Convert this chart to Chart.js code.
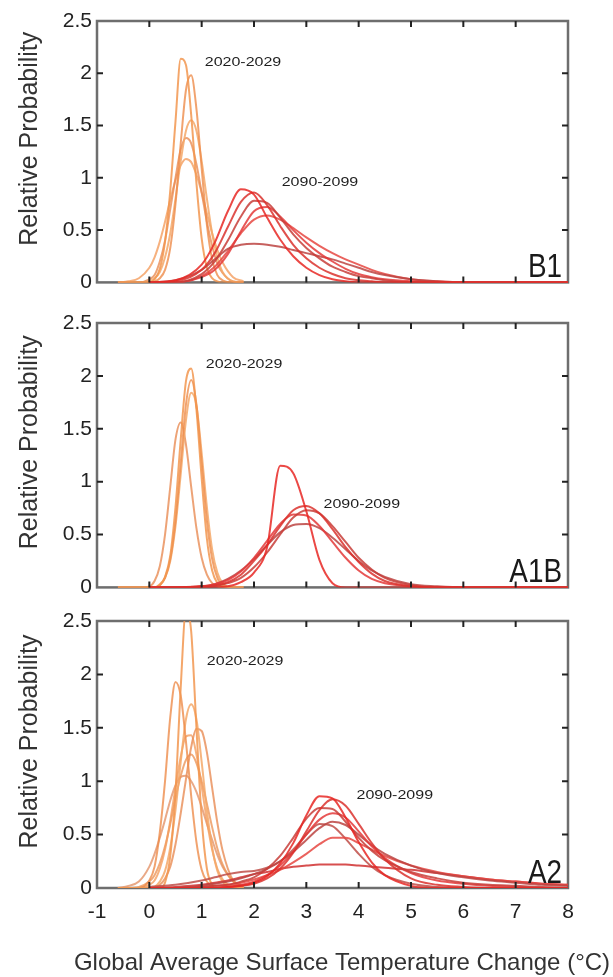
<!DOCTYPE html>
<html>
<head>
<meta charset="utf-8">
<script src="https://cdn.jsdelivr.net/npm/chart.js@4"></script>
<style>
  body { margin: 0; background: #fff; }
  #wrap { position: relative; width: 613px; height: 977px; }
  canvas { position: absolute; left: 0; }
</style>
</head>
<body>
<div id="wrap">
  <canvas id="b1" width="613" height="300" style="top:0px"></canvas>
  <canvas id="a1b" width="613" height="305" style="top:300px"></canvas>
  <canvas id="a2" width="613" height="379" style="top:598px"></canvas>
</div>
<script>
// x grids (°C)
const xNear = [-0.6, -0.4, -0.2, 0, 0.1, 0.2, 0.3, 0.4, 0.5, 0.6, 0.7, 0.8, 0.9, 1.0, 1.1, 1.2, 1.3, 1.4, 1.6, 1.8];
const xLate = [0, 0.5, 1, 1.25, 1.5, 1.75, 2, 2.25, 2.5, 2.75, 3, 3.25, 3.5, 3.75, 4, 4.25, 4.5, 5, 5.5, 6, 6.5, 7, 7.5, 8];

// B1, 2020-2029
const b1Near = [
  [0, 0, 0, 0, 0.03, 0.13, 0.39, 0.88, 1.54, 2.14, 2.08, 1.6, 0.95, 0.42, 0.14, 0.04, 0.01, 0, 0, 0],
  [0, 0, 0, 0, 0.01, 0.04, 0.12, 0.33, 0.75, 1.33, 1.84, 1.98, 1.66, 1.09, 0.55, 0.22, 0.07, 0.02, 0, 0],
  [0, 0, 0, 0.01, 0.04, 0.1, 0.24, 0.47, 0.8, 1.16, 1.45, 1.55, 1.45, 1.16, 0.8, 0.47, 0.24, 0.1, 0.01, 0],
  [0, 0, 0, 0.03, 0.07, 0.2, 0.4, 0.7, 1.0, 1.27, 1.38, 1.33, 1.13, 0.86, 0.58, 0.35, 0.18, 0.09, 0.01, 0],
  [0, 0.01, 0.04, 0.14, 0.24, 0.39, 0.58, 0.79, 0.98, 1.12, 1.18, 1.15, 1.03, 0.86, 0.66, 0.47, 0.31, 0.19, 0.05, 0.01]
];
// B1, 2090-2099
const b1Late = [
  [0, 0.02, 0.17, 0.38, 0.68, 0.89, 0.84, 0.62, 0.41, 0.25, 0.14, 0.07, 0.03, 0.01, 0, 0, 0, 0, 0, 0, 0, 0, 0, 0],
  [0, 0.01, 0.12, 0.28, 0.53, 0.77, 0.86, 0.74, 0.54, 0.36, 0.23, 0.14, 0.08, 0.04, 0.02, 0.01, 0, 0, 0, 0, 0, 0, 0, 0],
  [0, 0, 0.08, 0.2, 0.4, 0.63, 0.78, 0.76, 0.62, 0.46, 0.33, 0.23, 0.15, 0.1, 0.06, 0.04, 0.02, 0, 0, 0, 0, 0, 0, 0],
  [0, 0, 0.05, 0.12, 0.27, 0.49, 0.68, 0.72, 0.63, 0.5, 0.38, 0.28, 0.2, 0.13, 0.08, 0.05, 0.03, 0.01, 0, 0, 0, 0, 0, 0],
  [0, 0.02, 0.12, 0.22, 0.32, 0.36, 0.37, 0.36, 0.34, 0.31, 0.28, 0.25, 0.22, 0.18, 0.14, 0.1, 0.07, 0.03, 0.01, 0, 0, 0, 0, 0],
  [0, 0, 0.06, 0.15, 0.3, 0.47, 0.6, 0.64, 0.6, 0.52, 0.43, 0.35, 0.28, 0.22, 0.17, 0.12, 0.08, 0.03, 0.01, 0, 0, 0, 0, 0]
];

// A1B, 2020-2029
const a1bNear = [
  [0, 0, 0, 0, 0, 0.02, 0.1, 0.3, 0.76, 1.4, 1.95, 2.07, 1.68, 1.03, 0.46, 0.16, 0.04, 0.01, 0, 0],
  [0, 0, 0, 0, 0, 0.02, 0.09, 0.27, 0.63, 1.18, 1.73, 1.96, 1.73, 1.18, 0.63, 0.27, 0.09, 0.02, 0, 0],
  [0, 0, 0, 0, 0, 0.03, 0.09, 0.25, 0.58, 1.07, 1.58, 1.84, 1.72, 1.27, 0.76, 0.36, 0.14, 0.04, 0, 0],
  [0, 0, 0, 0.01, 0.06, 0.2, 0.5, 0.95, 1.4, 1.56, 1.35, 0.95, 0.56, 0.28, 0.12, 0.04, 0.01, 0, 0, 0]
];
// A1B, 2090-2099
const a1bLate = [
  [0, 0, 0, 0, 0.01, 0.05, 0.14, 0.38, 1.15, 1.08, 0.72, 0.26, 0.04, 0, 0, 0, 0, 0, 0, 0, 0, 0, 0, 0],
  [0, 0, 0.01, 0.02, 0.05, 0.12, 0.25, 0.4, 0.58, 0.73, 0.77, 0.7, 0.55, 0.38, 0.24, 0.13, 0.06, 0.01, 0, 0, 0, 0, 0, 0],
  [0, 0, 0, 0.01, 0.04, 0.09, 0.19, 0.33, 0.5, 0.66, 0.73, 0.7, 0.58, 0.43, 0.28, 0.17, 0.09, 0.02, 0, 0, 0, 0, 0, 0],
  [0, 0, 0.01, 0.03, 0.07, 0.15, 0.28, 0.44, 0.6, 0.69, 0.68, 0.58, 0.43, 0.28, 0.16, 0.08, 0.04, 0.01, 0, 0, 0, 0, 0, 0],
  [0, 0, 0.01, 0.03, 0.08, 0.16, 0.27, 0.4, 0.52, 0.59, 0.6, 0.56, 0.47, 0.36, 0.25, 0.16, 0.1, 0.03, 0.01, 0, 0, 0, 0, 0]
];

// A2, 2020-2029
const a2Near = [
  [0, 0, 0, 0, 0, 0, 0.05, 0.3, 0.9, 1.88, 2.6, 2.4, 1.5, 0.65, 0.18, 0.03, 0, 0, 0, 0],
  [0, 0, 0, 0.07, 0.2, 0.52, 1.0, 1.6, 1.93, 1.8, 1.37, 0.86, 0.43, 0.17, 0.06, 0.01, 0, 0, 0, 0],
  [0, 0, 0, 0, 0.01, 0.06, 0.16, 0.38, 0.73, 1.18, 1.58, 1.72, 1.58, 1.18, 0.73, 0.38, 0.16, 0.06, 0, 0],
  [0, 0, 0, 0, 0.01, 0.03, 0.09, 0.2, 0.41, 0.7, 1.02, 1.32, 1.49, 1.47, 1.27, 0.94, 0.61, 0.35, 0.07, 0.01],
  [0, 0, 0, 0.03, 0.07, 0.18, 0.36, 0.63, 0.94, 1.23, 1.42, 1.43, 1.25, 0.95, 0.63, 0.36, 0.18, 0.08, 0.01, 0],
  [0, 0, 0.01, 0.06, 0.12, 0.23, 0.39, 0.6, 0.84, 1.05, 1.2, 1.25, 1.17, 1.0, 0.79, 0.57, 0.37, 0.22, 0.06, 0.01],
  [0, 0.02, 0.06, 0.2, 0.32, 0.47, 0.64, 0.82, 0.96, 1.04, 1.05, 1.0, 0.9, 0.76, 0.6, 0.45, 0.31, 0.2, 0.07, 0.02]
];
// A2, 2090-2099
const a2Late = [
  [0, 0, 0, 0, 0.01, 0.02, 0.05, 0.11, 0.23, 0.42, 0.68, 0.86, 0.84, 0.66, 0.43, 0.24, 0.12, 0.02, 0, 0, 0, 0, 0, 0],
  [0, 0, 0, 0, 0.01, 0.02, 0.04, 0.09, 0.18, 0.33, 0.53, 0.73, 0.83, 0.77, 0.6, 0.42, 0.27, 0.09, 0.03, 0.01, 0, 0, 0, 0],
  [0, 0, 0.01, 0.02, 0.03, 0.06, 0.1, 0.18, 0.3, 0.47, 0.65, 0.75, 0.74, 0.62, 0.47, 0.35, 0.26, 0.15, 0.09, 0.05, 0.03, 0.02, 0.01, 0],
  [0, 0, 0, 0, 0.01, 0.03, 0.06, 0.12, 0.21, 0.34, 0.5, 0.64, 0.7, 0.66, 0.53, 0.39, 0.28, 0.14, 0.07, 0.04, 0.02, 0.01, 0, 0],
  [0, 0, 0.02, 0.04, 0.06, 0.09, 0.13, 0.18, 0.25, 0.34, 0.45, 0.56, 0.62, 0.59, 0.5, 0.4, 0.32, 0.21, 0.14, 0.1, 0.07, 0.05, 0.03, 0.02],
  [0, 0, 0.01, 0.02, 0.03, 0.05, 0.08, 0.12, 0.17, 0.24, 0.32, 0.41, 0.47, 0.47, 0.42, 0.36, 0.3, 0.21, 0.15, 0.11, 0.08, 0.06, 0.04, 0.03],
  [0, 0.01, 0.03, 0.05, 0.07, 0.1, 0.13, 0.15, 0.18, 0.2, 0.21, 0.22, 0.22, 0.22, 0.21, 0.2, 0.19, 0.17, 0.14, 0.11, 0.08, 0.06, 0.04, 0.03],
  [0.01, 0.03, 0.07, 0.1, 0.13, 0.15, 0.16, 0.19, 0.25, 0.36, 0.5, 0.6, 0.58, 0.46, 0.32, 0.2, 0.12, 0.04, 0.01, 0, 0, 0, 0, 0]
];

const nearColors = ['rgba(242,150,80,0.85)', 'rgba(238,140,75,0.8)', 'rgba(245,168,105,0.85)', 'rgba(232,140,85,0.8)', 'rgba(244,158,95,0.8)', 'rgba(236,150,90,0.8)', 'rgba(228,148,105,0.8)'];
const lateColors = ['rgba(232,40,36,0.85)', 'rgba(218,50,46,0.85)', 'rgba(200,62,58,0.85)', 'rgba(228,58,58,0.85)', 'rgba(188,68,66,0.85)', 'rgba(230,72,66,0.85)', 'rgba(208,48,48,0.85)', 'rgba(192,78,72,0.85)'];

const FONT = 'Liberation Sans, Arial, sans-serif';

function lines(xs, curves, colors, order) {
  return curves.map((ys, i) => ({
    data: ys.map((v, j) => ({ x: xs[j], y: v })),
    borderColor: colors[i % colors.length],
    borderWidth: 2,
    pointRadius: 0,
    cubicInterpolationMode: 'monotone',
    fill: false,
    order: order
  }));
}

const decor = {
  id: 'decor',
  beforeDatasetsDraw(chart) {
    const { ctx, chartArea: a } = chart;
    ctx.save();
    ctx.strokeStyle = '#6e6e6e';
    ctx.lineWidth = 2.5;
    ctx.strokeRect(a.left, a.top, a.width, a.height);
    ctx.restore();
  },
  afterDraw(chart, args, o) {
    const { ctx, chartArea: a, scales: { x, y } } = chart;
    ctx.save();
    // inward ticks on all four sides
    ctx.strokeStyle = '#222';
    ctx.lineWidth = 2;
    ctx.beginPath();
    for (let v = 0; v <= 7; v++) {
      const px = x.getPixelForValue(v);
      ctx.moveTo(px, a.top); ctx.lineTo(px, a.top + 6);
      ctx.moveTo(px, a.bottom); ctx.lineTo(px, a.bottom - 6);
    }
    for (let v = 0.5; v <= 2; v += 0.5) {
      const py = y.getPixelForValue(v);
      ctx.moveTo(a.left, py); ctx.lineTo(a.left + 6, py);
      ctx.moveTo(a.right, py); ctx.lineTo(a.right - 6, py);
    }
    ctx.stroke();

    // period labels
    ctx.fillStyle = '#1e1e1e';
    ctx.font = '16px ' + FONT;
    ctx.textAlign = 'center';
    ctx.textBaseline = 'middle';
    o.periods.forEach(p => {
      const px = x.getPixelForValue(p.x), py = y.getPixelForValue(p.y);
      ctx.save();
      ctx.translate(px, py);
      ctx.scale(1, 0.85);
      ctx.fillText(p.text, 0, 0);
      ctx.restore();
    });

    // scenario name, condensed
    ctx.save();
    ctx.font = '34px ' + FONT;
    ctx.textAlign = 'right';
    ctx.textBaseline = 'alphabetic';
    ctx.fillStyle = '#1a1a1a';
    ctx.translate(a.right - 6, a.bottom - 5);
    ctx.scale(0.82, 1);
    ctx.fillText(o.name, 0, 0);
    ctx.restore();

    // y title
    ctx.font = '25px ' + FONT;
    ctx.fillStyle = '#333';
    ctx.textAlign = 'center';
    ctx.textBaseline = 'middle';
    ctx.save();
    ctx.translate(30, (a.top + a.bottom) / 2 - 13);
    ctx.rotate(-Math.PI / 2);
    ctx.fillText('Relative Probability', 0, 0);
    ctx.restore();

    if (o.xTitle) {
      ctx.font = '24px ' + FONT;
      ctx.fillText(o.xTitle, 342, chart.height - 14);
    }
    ctx.restore();
  }
};

function makeChart(id, near, late, name, periods, padTop, xh, showX, xTitle) {
  const tickFont = { family: FONT, size: 21 };
  return new Chart(document.getElementById(id), {
    type: 'line',
    data: { datasets: lines(xLate, late, lateColors, 0).concat(lines(xNear, near, nearColors, 1)) },
    options: {
      responsive: false,
      animation: false,
      devicePixelRatio: 1,
      layout: { padding: { top: padTop, right: 45, left: 0, bottom: 0 } },
      plugins: {
        legend: { display: false },
        tooltip: { enabled: false },
        decor: { name: name, periods: periods, xTitle: xTitle }
      },
      scales: {
        x: {
          type: 'linear', min: -1, max: 8,
          grid: { display: false, drawTicks: false },
          border: { display: false },
          ticks: { display: showX, stepSize: 1, padding: 12, font: tickFont, color: '#222' },
          afterFit(s) { s.height = xh; }
        },
        y: {
          min: 0, max: 2.5,
          grid: { display: false, drawTicks: false },
          border: { display: false },
          ticks: { stepSize: 0.5, padding: 5, font: tickFont, color: '#222', callback: v => String(v) },
          afterFit(s) { s.width = 97; }
        }
      }
    },
    plugins: [decor]
  });
}

makeChart('b1', b1Near, b1Late, 'B1',
  [{ text: '2020-2029', x: 1.79, y: 2.11 }, { text: '2090-2099', x: 3.26, y: 0.955 }],
  21, 13, false, null);
makeChart('a1b', a1bNear, a1bLate, 'A1B',
  [{ text: '2020-2029', x: 1.81, y: 2.11 }, { text: '2090-2099', x: 4.06, y: 0.79 }],
  23, 16, false, null);
makeChart('a2', a2Near, a2Late, 'A2',
  [{ text: '2020-2029', x: 1.83, y: 2.12 }, { text: '2090-2099', x: 4.69, y: 0.87 }],
  23, 89, true, 'Global Average Surface Temperature Change (°C)');
</script>
</body>
</html>
